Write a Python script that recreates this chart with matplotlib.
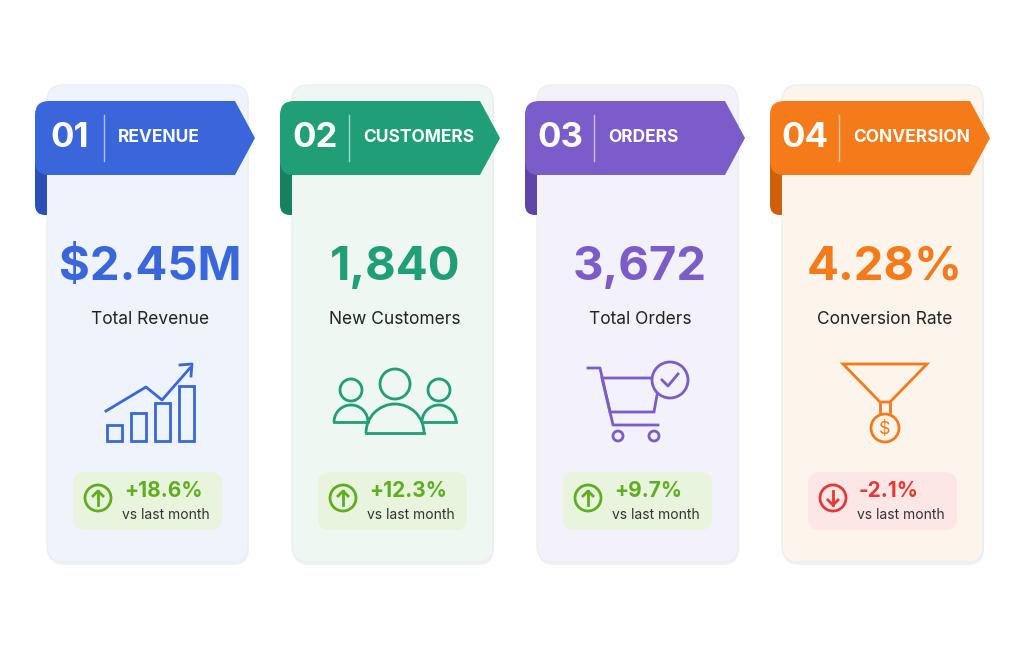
import matplotlib
matplotlib.use("Agg")
import matplotlib.pyplot as plt
from matplotlib.patches import FancyBboxPatch, Polygon, Circle, Rectangle, Arc
import numpy as np

numbers = ["01", "02", "03", "04"]
titles = ["REVENUE", "CUSTOMERS", "ORDERS", "CONVERSION"]
values = ["$2.45M", "1,840", "3,672", "4.28%"]
labels = ["Total Revenue", "New Customers", "Total Orders", "Conversion Rate"]
changes = [18.6, 12.3, 9.7, -2.1]
colors = ["#3a66db", "#1f9e78", "#7b5cc9", "#f47a1a"]
darks = ["#2a4fb8", "#17805f", "#5f44a8", "#cf5f0c"]
tints = ["#eef3fc", "#eef7f2", "#f3f1fa", "#fdf4ec"]

plt.rcParams['font.family'] = ['Inter', 'DejaVu Sans']
fig = plt.figure(figsize=(10.24, 6.72), dpi=100)
ax = fig.add_axes([0, 0, 1, 1])
ax.set_xlim(0, 1024); ax.set_ylim(672, 0); ax.axis('off')
Z = 6

def icon_chart(ax, cx, cy, c):
    xs = [107, 131, 155, 179]
    hs = [16, 28, 38, 55]
    for x, h in zip(xs, hs):
        ax.add_patch(Rectangle((x + cx - 150, cy + 41 - h), 15, h, fill=False, ec=c, lw=2, zorder=Z))
    px = np.array([106, 146, 162, 190]) + cx - 150
    py = np.array([411, 387, 400, 368]) + cy - 400
    ax.plot(px, py, color=c, lw=2, zorder=Z)
    ax.plot([px[-1] - 10, px[-1] + 2, px[-1] + 1], [py[-1] - 3, py[-1] - 4, py[-1] + 8], color=c, lw=2, zorder=Z)

def icon_people(ax, cx, cy, c):
    for s in (-1, 1):
        ox = cx + s * 44
        ax.add_patch(Circle((ox, cy - 10), 11, fill=False, ec=c, lw=2, zorder=Z))
        ax.add_patch(Arc((ox, cy + 22), 34, 34, theta1=180, theta2=360, ec=c, lw=2, zorder=Z))
        ax.plot([ox - 17, ox + 17], [cy + 22, cy + 22], color=c, lw=2, zorder=Z)
    ax.add_patch(Circle((cx, cy - 16), 15, fc=tints[1], ec=c, lw=2, zorder=Z + 1))
    ax.add_patch(Polygon([[cx - 29, cy + 33], [cx - 29, cy + 26], [cx, cy + 5], [cx + 29, cy + 26], [cx + 29, cy + 33]],
                         fc=tints[1], ec="none", zorder=Z + 1))
    ax.add_patch(Arc((cx, cy + 33), 58, 58, theta1=180, theta2=360, ec=c, lw=2, zorder=Z + 2))
    ax.plot([cx - 29, cx + 29], [cy + 33, cy + 33], color=c, lw=2, zorder=Z + 2)

def icon_cart(ax, cx, cy, c):
    x0 = cx - 52
    ax.plot([x0, x0 + 12, x0 + 25, x0 + 70], [cy - 32, cy - 32, cy + 25, cy + 25], color=c, lw=2, zorder=Z)
    ax.add_patch(Polygon([[x0 + 14, cy - 22], [x0 + 72, cy - 22], [x0 + 66, cy + 12], [x0 + 22, cy + 12]],
                         closed=True, fill=False, ec=c, lw=2, zorder=Z))
    ax.add_patch(Circle((x0 + 30, cy + 36), 5, fill=False, ec=c, lw=2, zorder=Z))
    ax.add_patch(Circle((x0 + 66, cy + 36), 5, fill=False, ec=c, lw=2, zorder=Z))
    ax.add_patch(Circle((x0 + 82, cy - 20), 18, fc=tints[2], ec=c, lw=2, zorder=Z + 1))
    ax.plot([x0 + 74, x0 + 80, x0 + 90], [cy - 20, cy - 14, cy - 26], color=c, lw=2, zorder=Z + 2)

def icon_funnel(ax, cx, cy, c):
    ax.add_patch(Polygon([[cx - 42, cy - 36], [cx + 42, cy - 36], [cx + 5, cy + 2], [cx - 5, cy + 2]],
                         closed=True, fill=False, ec=c, lw=2, zorder=Z))
    ax.plot([cx - 5, cx - 5], [cy + 2, cy + 12], color=c, lw=2, zorder=Z)
    ax.plot([cx + 5, cx + 5], [cy + 2, cy + 12], color=c, lw=2, zorder=Z)
    ax.add_patch(Circle((cx, cy + 28), 14, fc=tints[3], ec=c, lw=2, zorder=Z + 1))
    ax.text(cx, cy + 29, "$", color=c, fontsize=13, ha='center', va='center', zorder=Z + 2)

icons = [icon_chart, icon_people, icon_cart, icon_funnel]

for i in range(4):
    x0 = 47 + i * 245
    c = colors[i]
    ax.add_patch(FancyBboxPatch((x0 + 1, 88), 201, 477, boxstyle="round,pad=0,rounding_size=16",
                                fc="#e6e8ee", ec="none", alpha=0.6, zorder=1))
    ax.add_patch(FancyBboxPatch((x0, 85), 201, 477, boxstyle="round,pad=0,rounding_size=16",
                                fc=tints[i], ec="#eceef2", lw=1, zorder=2))
    ax.add_patch(FancyBboxPatch((x0 - 12, 150), 24, 65, boxstyle="round,pad=0,rounding_size=10",
                                fc=darks[i], ec="none", zorder=3))
    ax.add_patch(Rectangle((x0, 175), 14, 45, fc=tints[i], ec="none", zorder=3.5))
    rx0, rx1 = x0 - 12, x0 + 208
    ax.add_patch(FancyBboxPatch((rx0, 101), rx1 - rx0 - 28, 74, boxstyle="round,pad=0,rounding_size=14",
                                fc=c, ec="none", zorder=4))
    ax.add_patch(Polygon([[rx1 - 48, 101], [rx1 - 20, 101], [rx1, 138], [rx1 - 20, 175], [rx1 - 48, 175]],
                         closed=True, fc=c, ec="none", zorder=4))
    ax.text(x0 + 23, 138, numbers[i], color="white", fontsize=25, fontweight='bold', ha='center', va='center', zorder=5)
    ax.plot([x0 + 57, x0 + 57], [115, 161], color="white", alpha=0.6, lw=1, zorder=5)
    ax.text(x0 + 71, 138, titles[i], color="white", fontsize=12.5, fontweight='bold', ha='left', va='center', zorder=5)
    cx = x0 + 103
    ax.text(cx, 268, values[i], color=c, fontsize=34, fontweight='bold', ha='center', va='center', zorder=5)
    ax.text(cx, 319, labels[i], color="#222222", fontsize=12.5, ha='center', va='center', zorder=5)
    icons[i](ax, cx, 400, c)
    up = changes[i] >= 0
    bc = "#5fae1e" if up else "#e53935"
    bbg = "#e8f4de" if up else "#fce6e6"
    ax.add_patch(FancyBboxPatch((x0 + 26, 472), 149, 58, boxstyle="round,pad=0,rounding_size=12",
                                fc=bbg, ec="none", zorder=4))
    ax.add_patch(Circle((x0 + 51, 498), 13, fill=False, ec=bc, lw=2, zorder=5))
    ax1, ay = x0 + 51, 498
    ax.plot([ax1, ax1], [ay - 7, ay + 7], color=bc, lw=2, zorder=6)
    if up:
        ax.plot([ax1 - 5, ax1, ax1 + 5], [ay - 2, ay - 7, ay - 2], color=bc, lw=2, zorder=6)
    else:
        ax.plot([ax1 - 5, ax1, ax1 + 5], [ay + 2, ay + 7, ay + 2], color=bc, lw=2, zorder=6)
    txt = f"{changes[i]:+.1f}%"
    ax.text(x0 + 77, 491, txt, color=bc, fontsize=15, fontweight='bold', ha='left', va='center', zorder=5)
    ax.text(x0 + 75, 515, "vs last month", color="#333333", fontsize=10, ha='left', va='center', zorder=5)

fig.savefig("out.png", dpi=100, facecolor="white")
